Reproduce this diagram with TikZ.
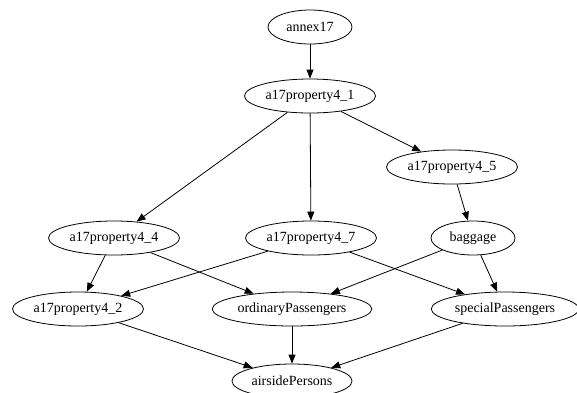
\documentclass[tikz,border=0pt]{standalone}
\usepackage{fontspec}
\setmainfont{Liberation Serif}
\usetikzlibrary{arrows.meta,shapes.geometric}
\begin{document}
\begin{tikzpicture}[x=1pt, y=-1pt, line width=0.8pt, >={Triangle[length=9pt,width=7pt]},
  prop/.style={ellipse, draw, inner xsep=2pt, inner ysep=0pt, minimum width=84pt, minimum height=34pt, font=\fontsize{14}{16}\selectfont}]
\useasboundingbox (0,0) rectangle (577,392);
\node[prop] (annex17) at (310,27){annex17};
\node[prop] (p41) at (310,96){a17property4\_1};
\draw[->](annex17) -- (p41);
\node[prop] (p45) at (452,167){a17property4\_5};
\node[prop] (p44) at (114,238){a17property4\_4};
\node[prop] (p47) at (311,238){a17property4\_7};
\node[prop] (baggage) at (473,238){baggage};
\draw[->](p41) -- (p45);
\draw[->](p41) -- (p44);
\draw[->](p41) -- (p47);
\draw[->](p45) -- (baggage);
\node[prop] (p42) at (78,309){a17property4\_2};
\node[prop] (ordinary) at (292,309){ordinaryPassengers};
\node[prop] (special) at (505,309){specialPassengers};
\draw[->](p44) -- (p42);
\draw[->](p44) -- (ordinary);
\draw[->](p47) -- (p42);
\draw[->](p47) -- (special);
\draw[->](baggage) -- (ordinary);
\draw[->](baggage) -- (special);
\node[prop] (airside) at (292,381){airsidePersons};
\draw[->](p42) -- (airside);
\draw[->](ordinary) -- (airside);
\draw[->](special) -- (airside);
\end{tikzpicture}
\end{document}
